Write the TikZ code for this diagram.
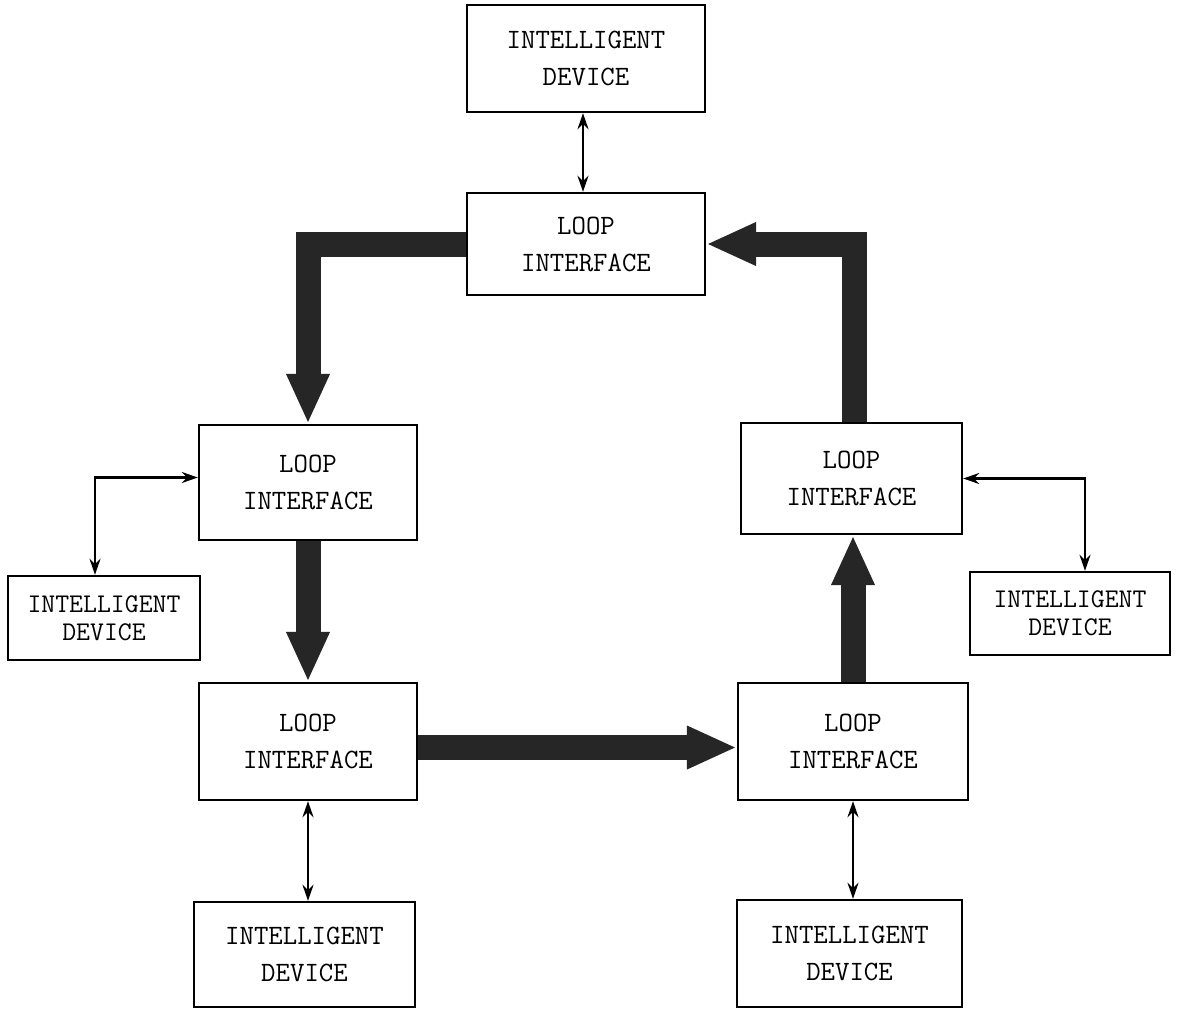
\documentclass[tikz,border=0pt]{standalone}
\usetikzlibrary{arrows.meta}
\begin{document}
\begin{tikzpicture}[x=1pt,y=-1pt,
  box/.style={draw=black, line width=2.4pt, fill=white, align=center, inner sep=2pt,
    font=\fontsize{28}{37}\selectfont\ttfamily},
  sidebox/.style={box, font=\fontsize{27}{28}\selectfont\ttfamily},
  bigarrow/.style={line width=25pt, draw=black!85, -{Triangle[length=50pt,width=40pt]}},
  thinarrow/.style={line width=2.2pt, draw=black, {Stealth[length=16pt,width=11pt]}-{Stealth[length=16pt,width=11pt]}}
]
\fill[white] (0,0) rectangle (1193,1010);
\useasboundingbox (0,0) rectangle (1193,1010);

\node[box, minimum width=238pt, minimum height=107pt] (tid) at (586,58.5) {INTELLIGENT\\DEVICE};
\node[box, minimum width=238pt, minimum height=102pt] (tli) at (586,244) {LOOP\\INTERFACE};
\node[box, minimum width=218pt, minimum height=115pt] (lli) at (308,482.5) {LOOP\\INTERFACE};
\node[sidebox, minimum width=192pt, minimum height=84pt] (lid) at (104,618) {INTELLIGENT\\DEVICE};
\node[box, minimum width=218pt, minimum height=117pt] (bli) at (308,741.5) {LOOP\\INTERFACE};
\node[box, minimum width=221pt, minimum height=105pt] (blid) at (304.5,954.5) {INTELLIGENT\\DEVICE};
\node[box, minimum width=230pt, minimum height=117pt] (bri) at (853,741.5) {LOOP\\INTERFACE};
\node[box, minimum width=225pt, minimum height=107pt] (brid) at (849.5,953.5) {INTELLIGENT\\DEVICE};
\node[box, minimum width=221pt, minimum height=111pt] (rli) at (851.5,478.5) {LOOP\\INTERFACE};
\node[sidebox, minimum width=200pt, minimum height=83pt] (rid) at (1070,613.5) {INTELLIGENT\\DEVICE};

% thick loop arrows
\draw[bigarrow] (tli.west) -| (lli.north);
\draw[bigarrow] (lli.south) -- (bli.north);
\draw[bigarrow] ([yshift=-6pt]bli.east) -- ([yshift=-6pt]bri.west);
\draw[bigarrow] (bri.north) -- (bri.north |- rli.south);
\draw[bigarrow] ([xshift=3pt]rli.north) |- (tli.east);

% thin device links
\draw[thinarrow] ([xshift=-3pt]tid.south) -- ([xshift=-3pt]tli.north);
\draw[thinarrow] ([yshift=5pt]lli.west) -| ([xshift=-9pt]lid.north);
\draw[thinarrow] (rli.east) -| ([xshift=15pt]rid.north);
\draw[thinarrow] (bli.south) -- (bli.south |- blid.north);
\draw[thinarrow] (bri.south) -- (bri.south |- brid.north);
\end{tikzpicture}
\end{document}
